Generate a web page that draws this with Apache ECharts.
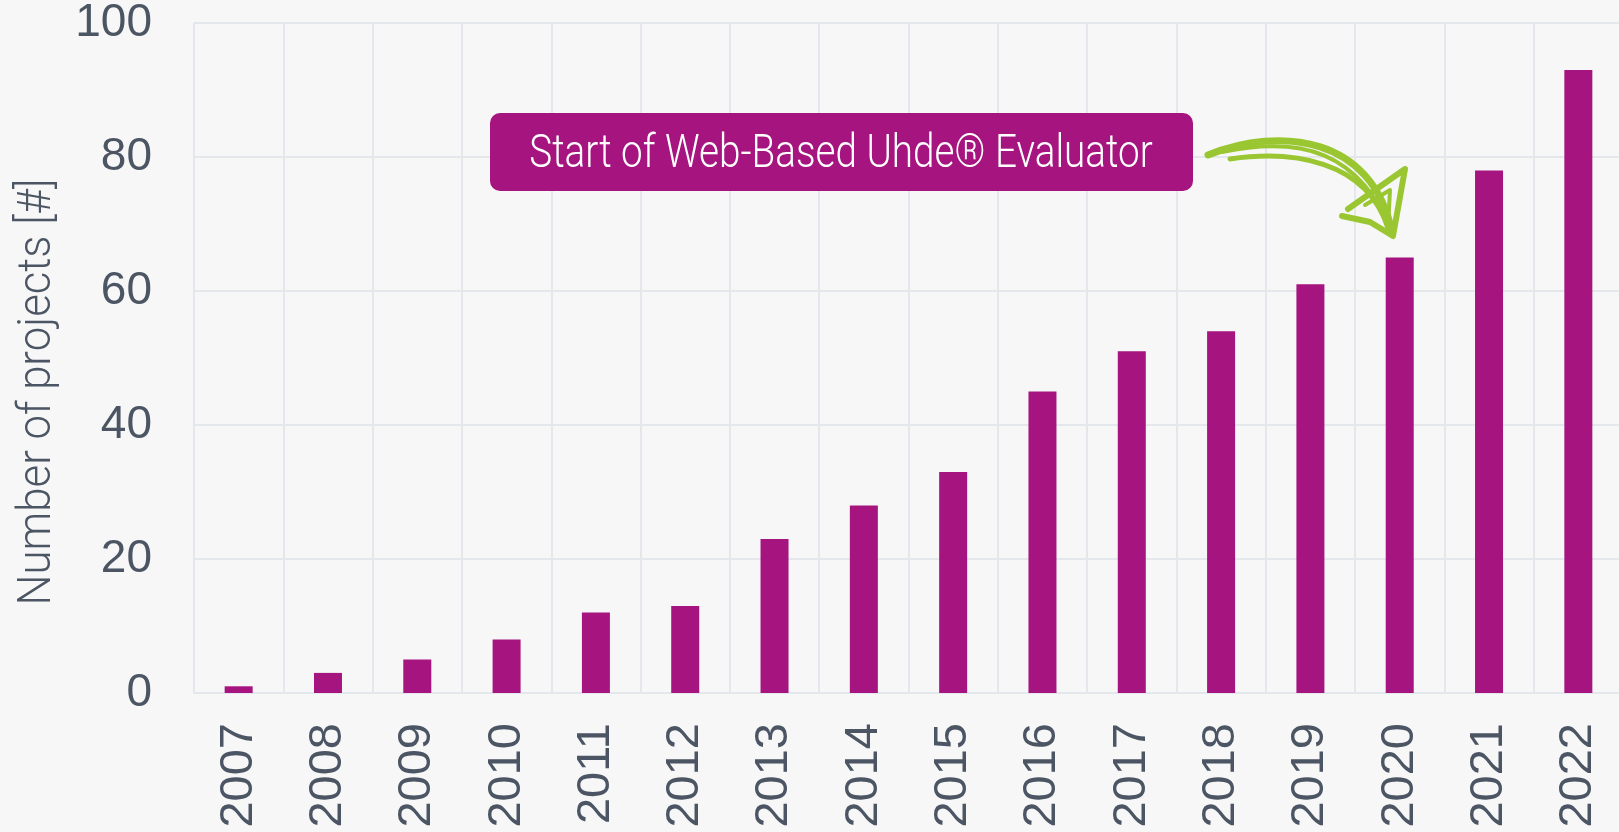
<!DOCTYPE html>
<html>
<head>
<meta charset="utf-8">
<script src="https://cdn.jsdelivr.net/npm/echarts@6/dist/echarts.min.js"></script>
<style>
  html, body { margin: 0; padding: 0; background: #f7f7f7; }
  #chart { width: 1619px; height: 832px; }
</style>
</head>
<body>
<div id="chart"></div>
<script>
// data
const years = ['2007', '2008', '2009', '2010', '2011', '2012', '2013', '2014',
  '2015', '2016', '2017', '2018', '2019', '2020', '2021', '2022'];
const projects = [1, 3, 5, 8, 12, 13, 23, 28, 33, 45, 51, 54, 61, 65, 78, 93];
const yTicks = [0, 20, 40, 60, 80, 100];
const yName = 'Number of projects [#]';
const annotationText = 'Start of Web-Based Uhde® Evaluator';

const purple = '#a5147f';
const green = '#9ac632';
const gridColor = '#e4e7eb';
const labelColor = '#4b5563';
// no condensed font installed, so light Roboto gets squeezed with scaleX
const condensed = '300 46px Roboto, "Liberation Sans", sans-serif';

const chart = echarts.init(document.getElementById('chart'));

const option = {
  backgroundColor: '#f7f7f7',
  animation: false,
  grid: {
    left: 194,
    top: 23,
    bottom: 139,
    width: 1429,
    outerBoundsMode: 'none'
  },
  xAxis: {
    type: 'category',
    data: years,
    axisTick: { show: false },
    axisLine: { lineStyle: { color: gridColor, width: 2 } },
    axisLabel: {
      rotate: 90,
      margin: 30,
      color: labelColor,
      fontSize: 47,
      fontFamily: '"Liberation Sans", Arial, sans-serif'
    },
    splitLine: { show: true, lineStyle: { color: gridColor, width: 2 } }
  },
  yAxis: {
    type: 'value',
    min: yTicks[0],
    max: yTicks[yTicks.length - 1],
    interval: yTicks[1] - yTicks[0],
    axisLine: { show: false },
    axisTick: { show: false },
    axisLabel: {
      margin: 42,
      color: labelColor,
      fontSize: 46,
      fontFamily: '"Liberation Sans", Arial, sans-serif'
    },
    splitLine: { lineStyle: { color: gridColor, width: 2 } }
  },
  series: [
    {
      type: 'bar',
      data: projects,
      barWidth: 28,
      itemStyle: { color: purple }
    }
  ],
  graphic: [
    {
      type: 'text',
      x: 38,
      y: 392,
      rotation: Math.PI / 2,
      scaleX: 0.95,
      z: 100,
      style: {
        text: yName,
        fill: labelColor,
        font: condensed,
        align: 'center',
        verticalAlign: 'middle'
      }
    },
    {
      type: 'rect',
      left: 490,
      top: 113,
      z: 100,
      shape: { width: 703, height: 78, r: 10 },
      style: { fill: purple }
    },
    {
      type: 'text',
      x: 841,
      y: 155,
      scaleX: 0.84,
      z: 101,
      style: {
        text: annotationText,
        fill: '#fff',
        font: condensed,
        align: 'center',
        verticalAlign: 'middle'
      }
    },
    // hand-drawn arrow
    {
      type: 'bezierCurve',
      z: 100,
      shape: { x1: 1208, y1: 155, cpx1: 1280, cpy1: 126, cpx2: 1372, cpy2: 136, x2: 1392, y2: 232 },
      style: { stroke: green, lineWidth: 7, fill: null, lineCap: 'round' }
    },
    {
      type: 'bezierCurve',
      z: 100,
      shape: { x1: 1230, y1: 159, cpx1: 1292, cpy1: 150, cpx2: 1366, cpy2: 160, x2: 1388, y2: 228 },
      style: { stroke: green, lineWidth: 5, fill: null, lineCap: 'round' }
    },
    {
      type: 'bezierCurve',
      z: 100,
      shape: { x1: 1222, y1: 152, cpx1: 1300, cpy1: 136, cpx2: 1360, cpy2: 150, x2: 1393, y2: 235 },
      style: { stroke: green, lineWidth: 4, fill: null, lineCap: 'round' }
    },
    {
      type: 'polyline',
      z: 100,
      shape: { points: [[1342, 216], [1370, 222], [1393, 236], [1405, 169], [1348, 209]] },
      style: { stroke: green, lineWidth: 6, fill: null, lineCap: 'round', lineJoin: 'round' }
    },
    {
      type: 'polyline',
      z: 100,
      shape: { points: [[1365, 205], [1390, 190], [1388, 228]] },
      style: { stroke: green, lineWidth: 4, fill: null, lineCap: 'round', lineJoin: 'round' }
    }
  ]
};

chart.setOption(option);
</script>
</body>
</html>
